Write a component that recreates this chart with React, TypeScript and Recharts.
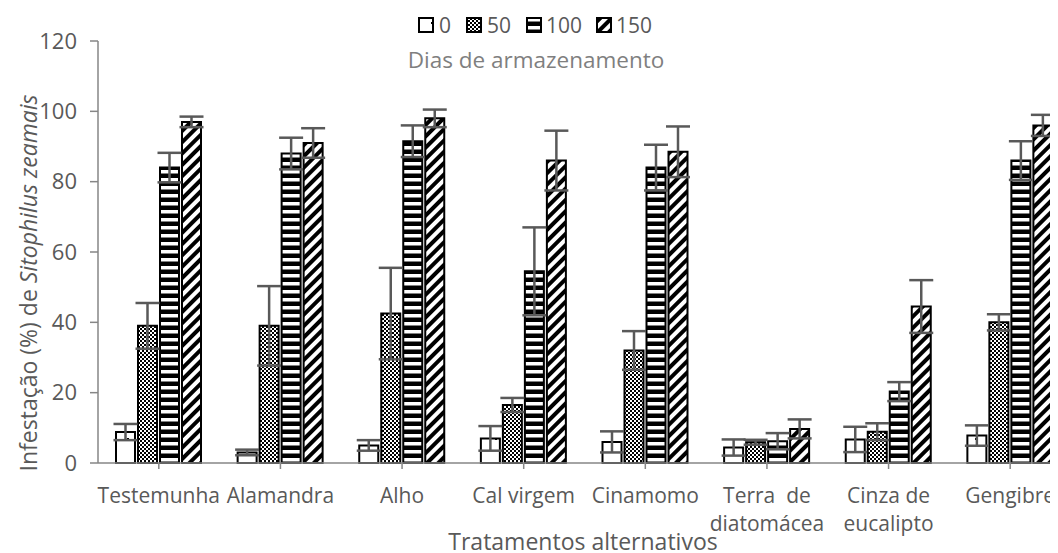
import { BarChart, Bar, XAxis, YAxis, ErrorBar, Label } from 'recharts'

const categories = ['Testemunha', 'Alamandra', 'Alho', 'Cal virgem', 'Cinamomo', 'Terra  de|diatomácea', 'Cinza de|eucalipto', 'Gengibre']
const dias0 = [8.8, 3, 5, 7, 6, 4.4, 6.7, 7.8]
const dias50 = [39, 39, 42.5, 16.5, 32, 5.9, 8.9, 40]
const dias100 = [84, 88, 91.5, 54.5, 84, 6.2, 20.3, 86]
const dias150 = [97, 91, 98, 86, 88.5, 9.7, 44.5, 96]
const err0 = [2.3, 0.8, 1.5, 3.5, 3, 2.3, 3.6, 2.9]
const err50 = [6.5, 11.3, 13, 2, 5.5, 0.7, 2.4, 2.3]
const err100 = [4.2, 4.5, 4.5, 12.5, 6.5, 2.3, 2.7, 5.5]
const err150 = [1.5, 4.2, 2.5, 8.5, 7.2, 2.7, 7.5, 3]
const yTicks = [0, 20, 40, 60, 80, 100, 120]
const seriesNames = ['0', '50', '100', '150']

const data = categories.map((c, i) => ({
  cat: c,
  d0: dias0[i], d50: dias50[i], d100: dias100[i], d150: dias150[i],
  e0: err0[i], e50: err50[i], e100: err100[i], e150: err150[i],
}))

const FONT = '"Open Sans", sans-serif'
const GREY = '#595959'
const AXIS = '#868686'

function CatTick(props: any) {
  const { x, y, payload } = props
  const lines = String(payload.value).split('|')
  return (
    <text x={x} y={y} fill={GREY} fontSize={21} fontFamily={FONT} textAnchor="middle">
      {lines.map((l, i) => (
        <tspan key={i} x={x} dy={i === 0 ? 32 : 28} style={{ whiteSpace: 'pre' }}>{l}</tspan>
      ))}
    </text>
  )
}

function YTitle(props: any) {
  const { viewBox } = props
  const cx = viewBox.x - 1
  const cy = 275
  return (
    <text x={cx} y={cy} transform={`rotate(-90, ${cx}, ${cy})`} textAnchor="middle" fill={GREY} fontSize={23} fontFamily={FONT}>
      Infestação (%) de <tspan fontStyle="italic">Sitophilus zeamais</tspan>
    </text>
  )
}

function XTitle() {
  return (
    <text x={575} y={542} textAnchor="middle" fill={GREY} fontSize={23} fontFamily={FONT}>
      Tratamentos alternativos
    </text>
  )
}

function Patterns() {
  return (
    <svg width={0} height={0} style={{ position: 'absolute' }}>
      <defs>
        <pattern id="p0" patternUnits="userSpaceOnUse" width={16} height={32}>
          <rect width={16} height={32} fill="#fff" />
          <rect x={7} y={14} width={2} height={2} fill="#000" />
        </pattern>
        <pattern id="p50" patternUnits="userSpaceOnUse" width={4} height={4}>
          <rect width={4} height={4} fill="#fff" />
          <rect x={0} y={0} width={2} height={2} fill="#000" />
          <rect x={2} y={2} width={2} height={2} fill="#000" />
        </pattern>
        <pattern id="p100" patternUnits="userSpaceOnUse" width={8} height={8}>
          <rect width={8} height={8} fill="#000" />
          <rect x={0} y={2} width={8} height={3.5} fill="#fff" />
        </pattern>
        <pattern id="p150" patternUnits="userSpaceOnUse" width={8} height={8} patternTransform="rotate(45)">
          <rect width={8} height={8} fill="#fff" />
          <rect x={0} y={0} width={4} height={8} fill="#000" />
        </pattern>
      </defs>
    </svg>
  )
}

function TopLegend() {
  const iconX = [411, 459, 519, 589]
  const textX = [431, 479, 538, 608]
  return (
    <svg width={1050} height={80} style={{ position: 'absolute', left: 0, top: 0, pointerEvents: 'none' }}>
      {seriesNames.map((n, i) => (
        <g key={n}>
          <rect x={iconX[i]} y={10} width={14} height={14} fill={`url(#p${n})`} stroke="#000" strokeWidth={2} />
          <text x={textX[i]} y={25} fill={GREY} fontSize={21} fontFamily={FONT}>{n}</text>
        </g>
      ))}
      <text x={528} y={60} textAnchor="middle" fill="#7f7f7f" fontSize={22.5} fontFamily={FONT}>Dias de armazenamento</text>
    </svg>
  )
}

export default function App() {
  return (
    <div style={{ position: 'relative', width: 1050, height: 545, overflow: 'hidden', fontFamily: FONT }}>
      <Patterns />
      <BarChart
        width={1070}
        height={545}
        data={data}
        margin={{ top: 33, right: 7, left: 30, bottom: 30 }}
        barCategoryGap={18}
        barGap={3}
      >
        <XAxis
          dataKey="cat"
          height={60}
          interval={0}
          axisLine={{ stroke: AXIS, strokeWidth: 1.5 }}
          tickLine={{ stroke: AXIS, strokeWidth: 1.5 }}
          tickSize={6}
          tick={<CatTick />}
        >
          <Label content={<XTitle />} />
        </XAxis>
        <YAxis
          width={60}
          domain={[0, 120]}
          ticks={yTicks}
          interval={0}
          axisLine={{ stroke: AXIS, strokeWidth: 1.5 }}
          tickLine={{ stroke: AXIS, strokeWidth: 1.5 }}
          tickSize={8}
          tickMargin={13}
          tick={{ fill: GREY, fontSize: 22, fontFamily: FONT }}
          label={<YTitle />}
        />
        <Bar dataKey="d0" fill="url(#p0)" stroke="#000" strokeWidth={2} isAnimationActive={false}>
          <ErrorBar dataKey="e0" width={12} stroke={GREY} strokeWidth={2.5} />
        </Bar>
        <Bar dataKey="d50" fill="url(#p50)" stroke="#000" strokeWidth={2} isAnimationActive={false}>
          <ErrorBar dataKey="e50" width={12} stroke={GREY} strokeWidth={2.5} />
        </Bar>
        <Bar dataKey="d100" fill="url(#p100)" stroke="#000" strokeWidth={2} isAnimationActive={false}>
          <ErrorBar dataKey="e100" width={12} stroke={GREY} strokeWidth={2.5} />
        </Bar>
        <Bar dataKey="d150" fill="url(#p150)" stroke="#000" strokeWidth={2} isAnimationActive={false}>
          <ErrorBar dataKey="e150" width={12} stroke={GREY} strokeWidth={2.5} />
        </Bar>
      </BarChart>
      <TopLegend />
    </div>
  )
}
